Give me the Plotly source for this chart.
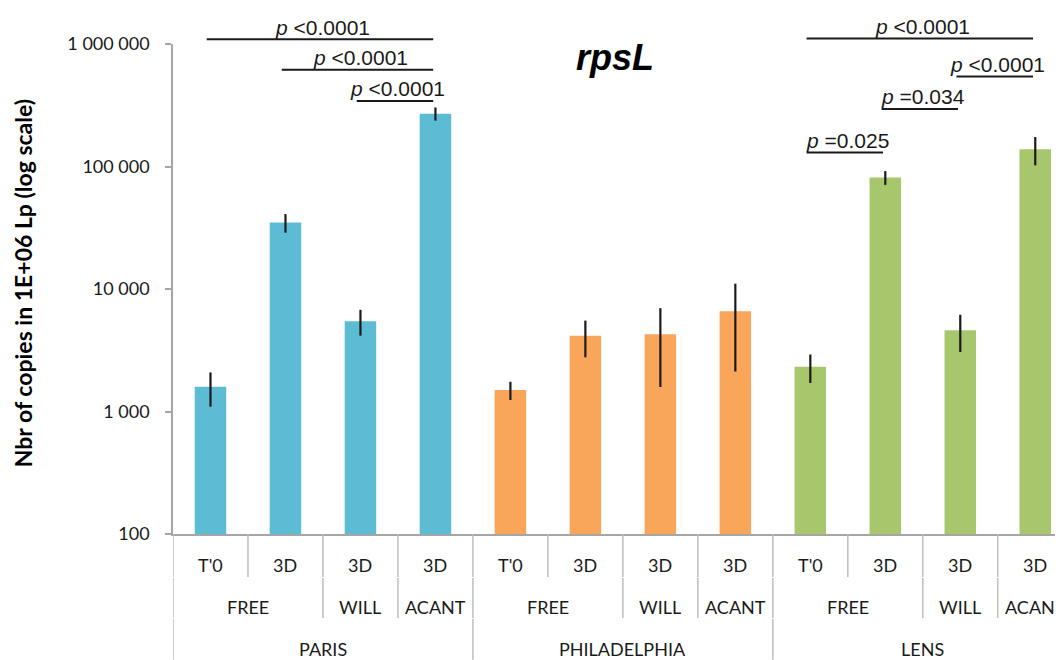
import plotly.graph_objects as go

# ---- data ----
cities = ["PARIS"] * 4 + ["PHILADELPHIA"] * 4 + ["LENS"] * 4
conditions = ["FREE", "FREE", "WILL", "ACANT"] * 3
times = ["T'0", "3D", "3D", "3D"] * 3
copies = [1590, 34870, 5460, 270100,
          1495, 4145, 4280, 6590,
          2315, 81230, 4610, 138100]
errors = [495, 6030, 1300, 33200,
          254, 1375, 2695, 4470,
          605, 10430, 1550, 35850]
city_colors = {"PARIS": "#5BBCD3", "PHILADELPHIA": "#F9A65A", "LENS": "#A8C66B"}
ytick_vals = [100, 1000, 10000, 100000, 1000000]
ytick_text = ["100", "1 000", "10 000", "100 000", "1 000 000"]
# significance brackets: (first bar index, last bar index, label)
brackets = [(0, 3, "<0.0001"), (1, 3, "<0.0001"), (2, 3, "<0.0001"),
            (8, 11, "<0.0001"), (10, 11, "<0.0001"), (9, 10, "=0.034"), (8, 9, "=0.025")]
bracket_levels = [1.0095, 0.9474, 0.8838, 1.0112, 0.9337, 0.8675, 0.7788]

# page is offset by the default 8px body margin; compensate
OFF = 8
W, H = 1063 - OFF, 660 - OFF
ML, MT, MB = 173 - OFF, 43.5 - OFF, 126
plot_h = H - MT - MB
plot_w = W - ML
BOTTOM_PAGE = H - MB + OFF  # page y of plot bottom


def py2paper(py):
    return (BOTTOM_PAGE - py) / plot_h


def px2paper(px):
    return (px - (ML + OFF)) / plot_w


fig = go.Figure()
idx = list(range(len(copies)))
for city in ["PARIS", "PHILADELPHIA", "LENS"]:
    sel = [i for i in idx if cities[i] == city]
    fig.add_trace(go.Bar(
        x=sel, y=[copies[i] for i in sel],
        marker=dict(color=city_colors[city], line=dict(width=0)),
        width=0.42,
        error_y=dict(type="data", array=[errors[i] for i in sel],
                     color="#1a1a1a", thickness=2.2, width=0),
        showlegend=False, name=city,
    ))

shapes = []
annotations = []
label_font = dict(family="Lato", size=18, color="#1a1a1a")

# category label rows
rows = [times, conditions, cities]
row_bounds = [(534, 577), (577, 618), (618, 660)]
row_centers = [565, 607, 649]
n = len(copies)
for r, labels in enumerate(rows):
    groups = []
    start = 0
    for i in range(1, n + 1):
        changed = i == n
        if not changed:
            for rr in range(r, len(rows)):
                if rows[rr][i] != rows[rr][i - 1]:
                    changed = True
        if changed:
            groups.append((start, i - 1))
            start = i
    for (a, b) in groups:
        annotations.append(dict(x=(a + b) / 2, y=py2paper(row_centers[r]), xref="x", yref="paper",
                                text=labels[a], showarrow=False, font=label_font,
                                xanchor="center", yanchor="middle"))
    for k, (a, b) in enumerate(groups):
        for xb in ([a - 0.5] if k == 0 else []) + [b + 0.5]:
            shapes.append(dict(type="line", xref="x", yref="paper", x0=xb, x1=xb,
                               y0=py2paper(row_bounds[r][0] if r == 0 else row_bounds[r][0] + 1),
                               y1=py2paper(row_bounds[r][1]),
                               line=dict(color="#BDBDBD", width=1.5)))

# significance brackets
for (a, b, lab), lev in zip(brackets, bracket_levels):
    shapes.append(dict(type="line", xref="x", yref="paper", x0=a - 0.05, x1=b - 0.03,
                       y0=lev, y1=lev, line=dict(color="#1a1a1a", width=2)))
    annotations.append(dict(x=(a + b) / 2, y=lev, xref="x", yref="paper",
                            text="<i>p</i> " + lab.replace("<", "&lt;"), showarrow=False,
                            font=dict(family="Liberation Sans", size=21, color="#1a1a1a"),
                            xanchor="center", yanchor="middle", yshift=12))

# title
annotations.append(dict(x=px2paper(615), y=py2paper(57), xref="paper", yref="paper",
                        text="<b><i>rpsL</i></b>", showarrow=False,
                        font=dict(family="Liberation Sans", size=36, color="#000000"),
                        xanchor="center", yanchor="middle"))
# y-axis title
annotations.append(dict(x=px2paper(23), y=py2paper(283), xref="paper", yref="paper",
                        text="<b>Nbr of copies in 1E+06 Lp (log scale)</b>", showarrow=False,
                        textangle=-90,
                        font=dict(family="Lato", size=23, color="#000000"),
                        xanchor="center", yanchor="middle"))

fig.update_layout(
    width=W, height=H,
    margin=dict(l=ML, r=0, t=MT, b=MB, pad=0),
    paper_bgcolor="white", plot_bgcolor="white",
    barmode="overlay",
    shapes=shapes, annotations=annotations,
    xaxis=dict(range=[-0.5, 11.37], showticklabels=False, ticks="", showgrid=False,
               zeroline=False, showline=True, linecolor="#A6A6A6", linewidth=1.5),
    yaxis=dict(type="log", range=[2, 6], tickvals=ytick_vals, ticktext=ytick_text,
               showgrid=False, zeroline=False, showline=True, linecolor="#A6A6A6", linewidth=1.5,
               ticks="outside", ticklen=6, tickcolor="#A6A6A6", tickwidth=1.5,
               ticklabelstandoff=12,
               tickfont=dict(family="Lato", size=18, color="#1a1a1a")),
)

fig.write_html("out.html")
